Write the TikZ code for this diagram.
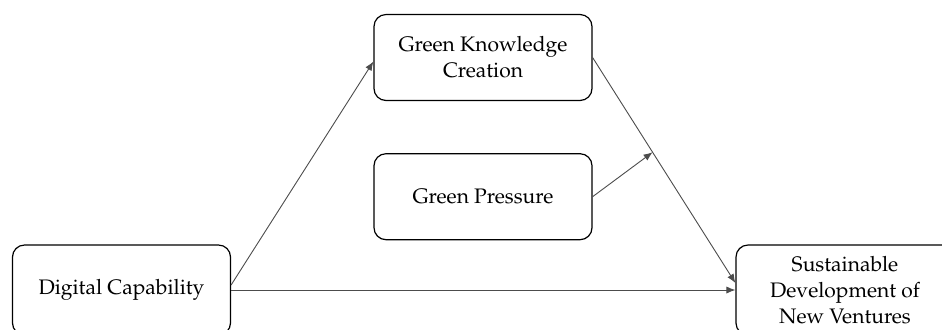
\documentclass[tikz,border=0pt]{standalone}
\usepackage[T1]{fontenc}
\usepackage{mathpazo}
\usepackage{tikz}
\usetikzlibrary{positioning,arrows.meta}
\tikzset{%
construct/.style={draw,rectangle,rounded corners=6pt,line width=0.6pt,minimum width=109pt,minimum height=43pt,align=center,font=\fontsize{10.5}{13}\selectfont,inner sep=2pt},
relation/.style={-{Latex[length=4.5pt,width=3.6pt]},line width=0.45pt,draw=black!70},
blank/.style={inner sep=0,minimum size=0}
}

\begin{document}
\begin{tikzpicture}[x=0.5pt,y=-0.5pt]

    \useasboundingbox (0,0) rectangle (942,329);

    \node[construct] (dc) at (121.5,290) [minimum height=45pt] {Digital Capability};
    \node[construct] (gkc) at (483,57.5) {Green Knowledge\\Creation};
    \node[construct] (gp) [below=26pt of gkc] {Green Pressure};
    \node[construct] (sdnv) at (845,290) [minimum height=45pt] {Sustainable\\Development of\\New Ventures};

    \path (gkc.east) -- coordinate[pos=0.42] (m) ([yshift=3.5pt]sdnv.west);

    \draw[relation] ([yshift=2.5pt]dc.east) -- ([yshift=-2pt]gkc.west);
    \draw[relation] (dc.east) -- (sdnv.west);
    \draw[relation] (gkc.east) -- ([yshift=3.5pt]sdnv.west);
    \draw[relation] (gp.east) -- (m);

\end{tikzpicture}
\end{document}
